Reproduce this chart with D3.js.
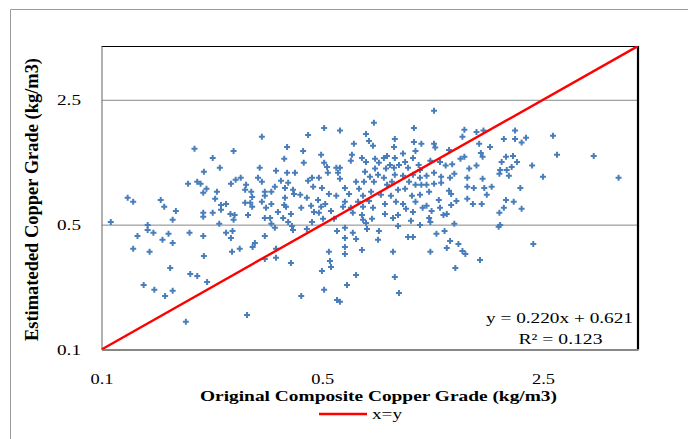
<!DOCTYPE html>
<html>
<head>
<meta charset="utf-8">
<script src="https://cdn.jsdelivr.net/npm/d3@7"></script>
<style>
  body { margin: 0; background: #fff; }
  svg { display: block; font-family: "Liberation Serif", "Times New Roman", serif; }
</style>
</head>
<body>
<div id="chart"></div>
<script>
// values (kg/m3), one pair per sample
const originalGrade = [
  0.197,0.211,0.188,0.201,0.206,0.210,0.215,0.121,0.126,0.154,0.158,0.172,0.168,0.210,0.210,0.107,0.140,0.140,0.130,0.146,
  0.163,0.156,0.168,0.190,0.210,0.126,0.142,0.211,0.165,0.191,0.201,0.216,0.136,0.147,0.159,0.168,0.185,
  0.322,0.451,0.387,0.262,0.435,0.225,0.379,0.437,0.237,0.317,0.357,0.387,0.410,0.276,0.266,0.313,0.257,0.287,0.322,0.370,
  0.390,0.451,0.464,0.285,0.354,0.381,0.404,0.468,0.232,0.298,0.329,0.345,0.407,0.426,0.447,0.229,0.300,0.329,0.381,0.285,
  0.296,0.322,0.345,0.239,0.248,0.300,0.332,0.379,0.384,0.429,0.461,0.239,0.225,0.256,0.264,0.291,0.362,0.398,0.471,0.262,
  0.329,0.342,0.376,0.390,0.464,0.236,0.345,0.401,0.354,0.404,0.447,0.248,0.260,0.329,0.257,0.306,0.301,0.274,0.259,0.357,
  0.329,0.357,0.398,0.429,0.289,
  0.729,0.507,0.569,0.976,0.688,0.849,0.703,0.630,0.724,0.976,1.03,0.844,0.987,0.496,0.621,0.802,0.901,0.668,0.735,0.784,
  0.849,0.616,0.688,0.756,0.915,0.969,0.507,0.554,0.569,0.518,0.819,0.875,1.01,0.683,0.735,0.796,0.844,0.935,1.02,0.521,
  0.561,0.488,0.569,0.708,0.751,0.784,0.849,0.901,0.969,1.02,0.640,0.678,0.729,0.802,0.831,0.942,0.987,1.03,0.499,0.590,
  0.654,0.714,0.869,0.915,0.525,0.554,0.608,0.673,0.767,0.825,0.962,1.02,0.485,0.511,0.590,0.649,0.703,0.856,0.901,0.987,
  0.496,0.533,0.582,0.616,0.673,0.724,0.790,0.921,1.04,0.488,0.625,0.668,0.790,0.869,0.969,0.503,0.545,0.673,0.719,0.838,
  0.955,0.688,0.869,1.02,0.557,0.590,0.693,0.756,0.935,0.969,0.625,0.590,0.640,0.751,0.590,0.668,0.525,0.590,0.838,0.529,
  0.533,0.499,0.640,0.849,0.599,0.507,0.875,0.557,0.569,
  1.13,2.04,1.41,1.54,1.62,1.39,1.88,2.21,2.04,1.13,1.14,1.57,1.70,2.14,1.26,1.59,1.61,1.91,2.01,1.41,
  1.37,1.10,1.18,1.23,1.29,1.54,1.85,2.07,1.99,1.83,1.92,1.46,1.13,1.31,1.07,1.19,1.27,1.44,1.61,1.95,
  1.82,1.07,1.13,1.19,1.44,1.51,1.63,1.72,2.12,1.09,1.26,1.28,1.66,1.44,1.17,1.33,1.91,2.02,1.07,1.18,
  1.28,1.50,1.60,1.11,1.24,1.21,1.88,2.14,1.09,1.82,1.10,1.31,1.83,1.81,1.15,1.22,1.27,1.35,1.24,1.10,
  1.39,1.42,1.58,1.32,
  2.69,2.77,3.62,2.31,2.50,4.34,2.33
];

const estimatedGrade = [
  1.33,0.988,0.846,0.868,0.846,0.753,0.793,0.706,0.671,0.688,0.629,0.597,0.532,0.582,0.553,0.518,0.498,0.467,0.432,0.450,
  0.444,0.411,0.395,0.450,0.432,0.366,0.352,0.334,0.286,0.265,0.258,0.239,0.230,0.216,0.199,0.213,0.143,
  1.55,1.59,1.36,1.29,1.29,1.18,1.17,1.11,1.04,1.04,1.00,0.975,0.975,0.914,0.891,0.914,0.846,0.835,0.868,0.879,
  0.857,0.879,0.914,0.783,0.814,0.803,0.783,0.814,0.763,0.763,0.763,0.763,0.743,0.734,0.706,0.697,0.715,0.725,0.706,0.662,
  0.662,0.671,0.653,0.645,0.653,0.629,0.621,0.645,0.629,0.621,0.637,0.605,0.582,0.574,0.567,0.567,0.589,0.574,0.589,0.532,
  0.545,0.545,0.545,0.518,0.518,0.505,0.505,0.492,0.480,0.467,0.473,0.450,0.461,0.432,0.421,0.395,0.375,0.366,0.352,0.366,
  0.321,0.326,0.305,0.199,0.156,
  1.86,1.74,1.68,1.74,1.61,1.51,1.47,1.42,1.38,1.45,1.42,1.36,1.29,1.23,1.23,1.21,1.25,1.18,1.17,1.18,
  1.18,1.14,1.12,1.11,1.12,1.18,1.11,1.04,1.04,1.05,1.08,1.08,1.08,0.988,1.03,1.03,1.04,1.04,1.01,0.975,
  0.975,0.914,0.902,0.926,0.950,0.914,0.950,0.938,0.950,0.914,0.868,0.868,0.868,0.835,0.868,0.868,0.835,0.835,0.803,0.803,
  0.793,0.763,0.783,0.793,0.743,0.725,0.743,0.725,0.734,0.725,0.725,0.734,0.688,0.653,0.671,0.671,0.679,0.671,0.653,0.671,
  0.629,0.597,0.629,0.621,0.629,0.621,0.653,0.613,0.621,0.582,0.582,0.567,0.574,0.567,0.589,0.539,0.539,0.532,0.539,0.545,
  0.525,0.511,0.492,0.498,0.461,0.480,0.473,0.461,0.427,0.427,0.450,0.421,0.416,0.411,0.375,0.361,0.352,0.343,0.352,0.313,
  0.290,0.275,0.261,0.255,0.230,0.216,0.207,0.189,0.185,
  2.17,1.68,1.70,1.65,1.68,1.55,1.51,1.53,1.51,1.42,1.35,1.42,1.36,1.44,1.31,1.26,1.20,1.20,1.21,1.20,
  1.17,1.14,1.12,1.07,1.09,1.07,1.12,1.12,1.05,1.01,1.01,1.03,0.975,0.962,0.938,0.926,0.914,0.914,0.902,0.938,
  0.962,0.835,0.846,0.857,0.814,0.803,0.803,0.814,0.803,0.763,0.773,0.743,0.734,0.697,0.688,0.679,0.688,0.671,0.637,0.621,
  0.645,0.653,0.653,0.597,0.574,0.567,0.621,0.613,0.545,0.582,0.518,0.505,0.498,0.486,0.444,0.461,0.405,0.390,0.370,0.352,
  0.356,0.343,0.317,0.286,
  1.57,1.23,1.21,1.07,0.926,0.914,0.390
];

const tickValues = [0.1, 0.5, 2.5];
const gridValues = [0.5, 2.5];
const axisDomain = [0.1, 5];
const xTitle = "Original Composite Copper Grade (kg/m3)";
const yTitle = "Estimateded Copper Grade (kg/m3)";
const fitText = "y = 0.220x + 0.621";
const r2Text = "R² = 0.123";
const legendText = "x=y";

const points = originalGrade.map((x, i) => ({ x, y: estimatedGrade[i] }));

// layout
const W = 688, H = 439;
const margin = { top: 46, right: 50, bottom: 89.5, left: 101.5 };
const width = W - margin.left - margin.right;
const height = H - margin.top - margin.bottom;

const root = d3.select("#chart").append("svg")
    .attr("width", W)
    .attr("height", H);

root.append("rect").attr("width", W).attr("height", H).attr("fill", "#fff");

// outer chart frame (left + top edge only visible)
root.append("path")
    .attr("d", `M10.5,${H} V9.5 H${W}`)
    .attr("fill", "none")
    .attr("stroke", "#9a9a9a")
    .attr("stroke-width", 1);

const svg = root.append("g")
    .attr("transform", `translate(${margin.left},${margin.top})`);

const x = d3.scaleLog().base(5).domain(axisDomain).range([0, width]);
const y = d3.scaleLog().base(5).domain(axisDomain).range([height, 0]);

// gridlines
svg.append("g")
    .call(d3.axisLeft(y).tickValues(gridValues).tickSize(-width).tickFormat(""))
    .call(g => g.select(".domain").remove())
    .call(g => g.selectAll("line").attr("stroke", "#878787").attr("stroke-width", 1));

// plot border: top and right in black
svg.append("line")
    .attr("x1", 0).attr("x2", width).attr("y1", 0.5).attr("y2", 0.5)
    .attr("stroke", "#000").attr("stroke-width", 1);
svg.append("line")
    .attr("x1", width).attr("x2", width).attr("y1", 0).attr("y2", height)
    .attr("stroke", "#000").attr("stroke-width", 2.2);

// axes
const xAxis = svg.append("g")
    .attr("transform", `translate(0,${height})`)
    .call(d3.axisBottom(x).tickValues(tickValues).tickSize(0).tickFormat(d3.format(".1f")));
xAxis.select(".domain").attr("stroke", "#878787").attr("stroke-width", 1.8);
xAxis.selectAll("text")
    .attr("y", 34.5).attr("dy", 0)
    .attr("font-family", "Liberation Serif")
    .attr("font-size", 14)
    .attr("fill", "#000")
    .attr("textLength", 23)
    .attr("lengthAdjust", "spacingAndGlyphs");

const yAxis = svg.append("g")
    .call(d3.axisLeft(y).tickValues(tickValues).tickSize(0).tickFormat(d3.format(".1f")));
yAxis.select(".domain").attr("stroke", "#878787").attr("stroke-width", 1.3);
yAxis.selectAll("text")
    .attr("x", -20.5).attr("dy", "0.35em")
    .attr("font-family", "Liberation Serif")
    .attr("font-size", 14)
    .attr("fill", "#000")
    .attr("textLength", 24)
    .attr("lengthAdjust", "spacingAndGlyphs");

// clip for marks
svg.append("clipPath").attr("id", "plot-clip")
  .append("rect").attr("width", width).attr("height", height);

const marks = svg.append("g").attr("clip-path", "url(#plot-clip)");

const marker = d3.symbol().type(d3.symbolCross).size(20);

marks.selectAll(".pt")
  .data(points)
  .enter().append("path")
    .attr("class", "pt")
    .attr("transform", d => `translate(${x(d.x)},${y(d.y)})`)
    .attr("d", marker)
    .attr("fill", "#4a7ebb");

// x = y reference line
const line = d3.line().x(d => x(d)).y(d => y(d));
marks.append("path")
    .attr("d", line(axisDomain))
    .attr("fill", "none")
    .attr("stroke", "#ff0000")
    .attr("stroke-width", 2.4);

// regression label
svg.append("text")
    .attr("x", 531.5).attr("y", 276.7)
    .attr("text-anchor", "end")
    .attr("font-size", 15)
    .attr("textLength", 147)
    .attr("lengthAdjust", "spacingAndGlyphs")
    .text(fitText);
svg.append("text")
    .attr("x", 459).attr("y", 298)
    .attr("text-anchor", "middle")
    .attr("font-size", 15)
    .attr("textLength", 84)
    .attr("lengthAdjust", "spacingAndGlyphs")
    .text(r2Text);

// axis titles
root.append("text")
    .attr("x", 378.5).attr("y", 401)
    .attr("text-anchor", "middle")
    .attr("font-size", 15)
    .attr("font-weight", "bold")
    .attr("textLength", 357)
    .attr("lengthAdjust", "spacingAndGlyphs")
    .text(xTitle);

root.append("text")
    .attr("transform", "translate(37.5,199.5) rotate(-90)")
    .attr("text-anchor", "middle")
    .attr("font-size", 18)
    .attr("font-weight", "bold")
    .attr("textLength", 283)
    .attr("lengthAdjust", "spacingAndGlyphs")
    .text(yTitle);

// legend
const legend = root.append("g");
legend.append("line")
    .attr("x1", 319).attr("x2", 367).attr("y1", 414).attr("y2", 414)
    .attr("stroke", "#ff0000").attr("stroke-width", 2.4);
legend.append("text")
    .attr("x", 372).attr("y", 419)
    .attr("font-size", 15)
    .attr("textLength", 30)
    .attr("lengthAdjust", "spacingAndGlyphs")
    .text(legendText);
</script>
</body>
</html>
